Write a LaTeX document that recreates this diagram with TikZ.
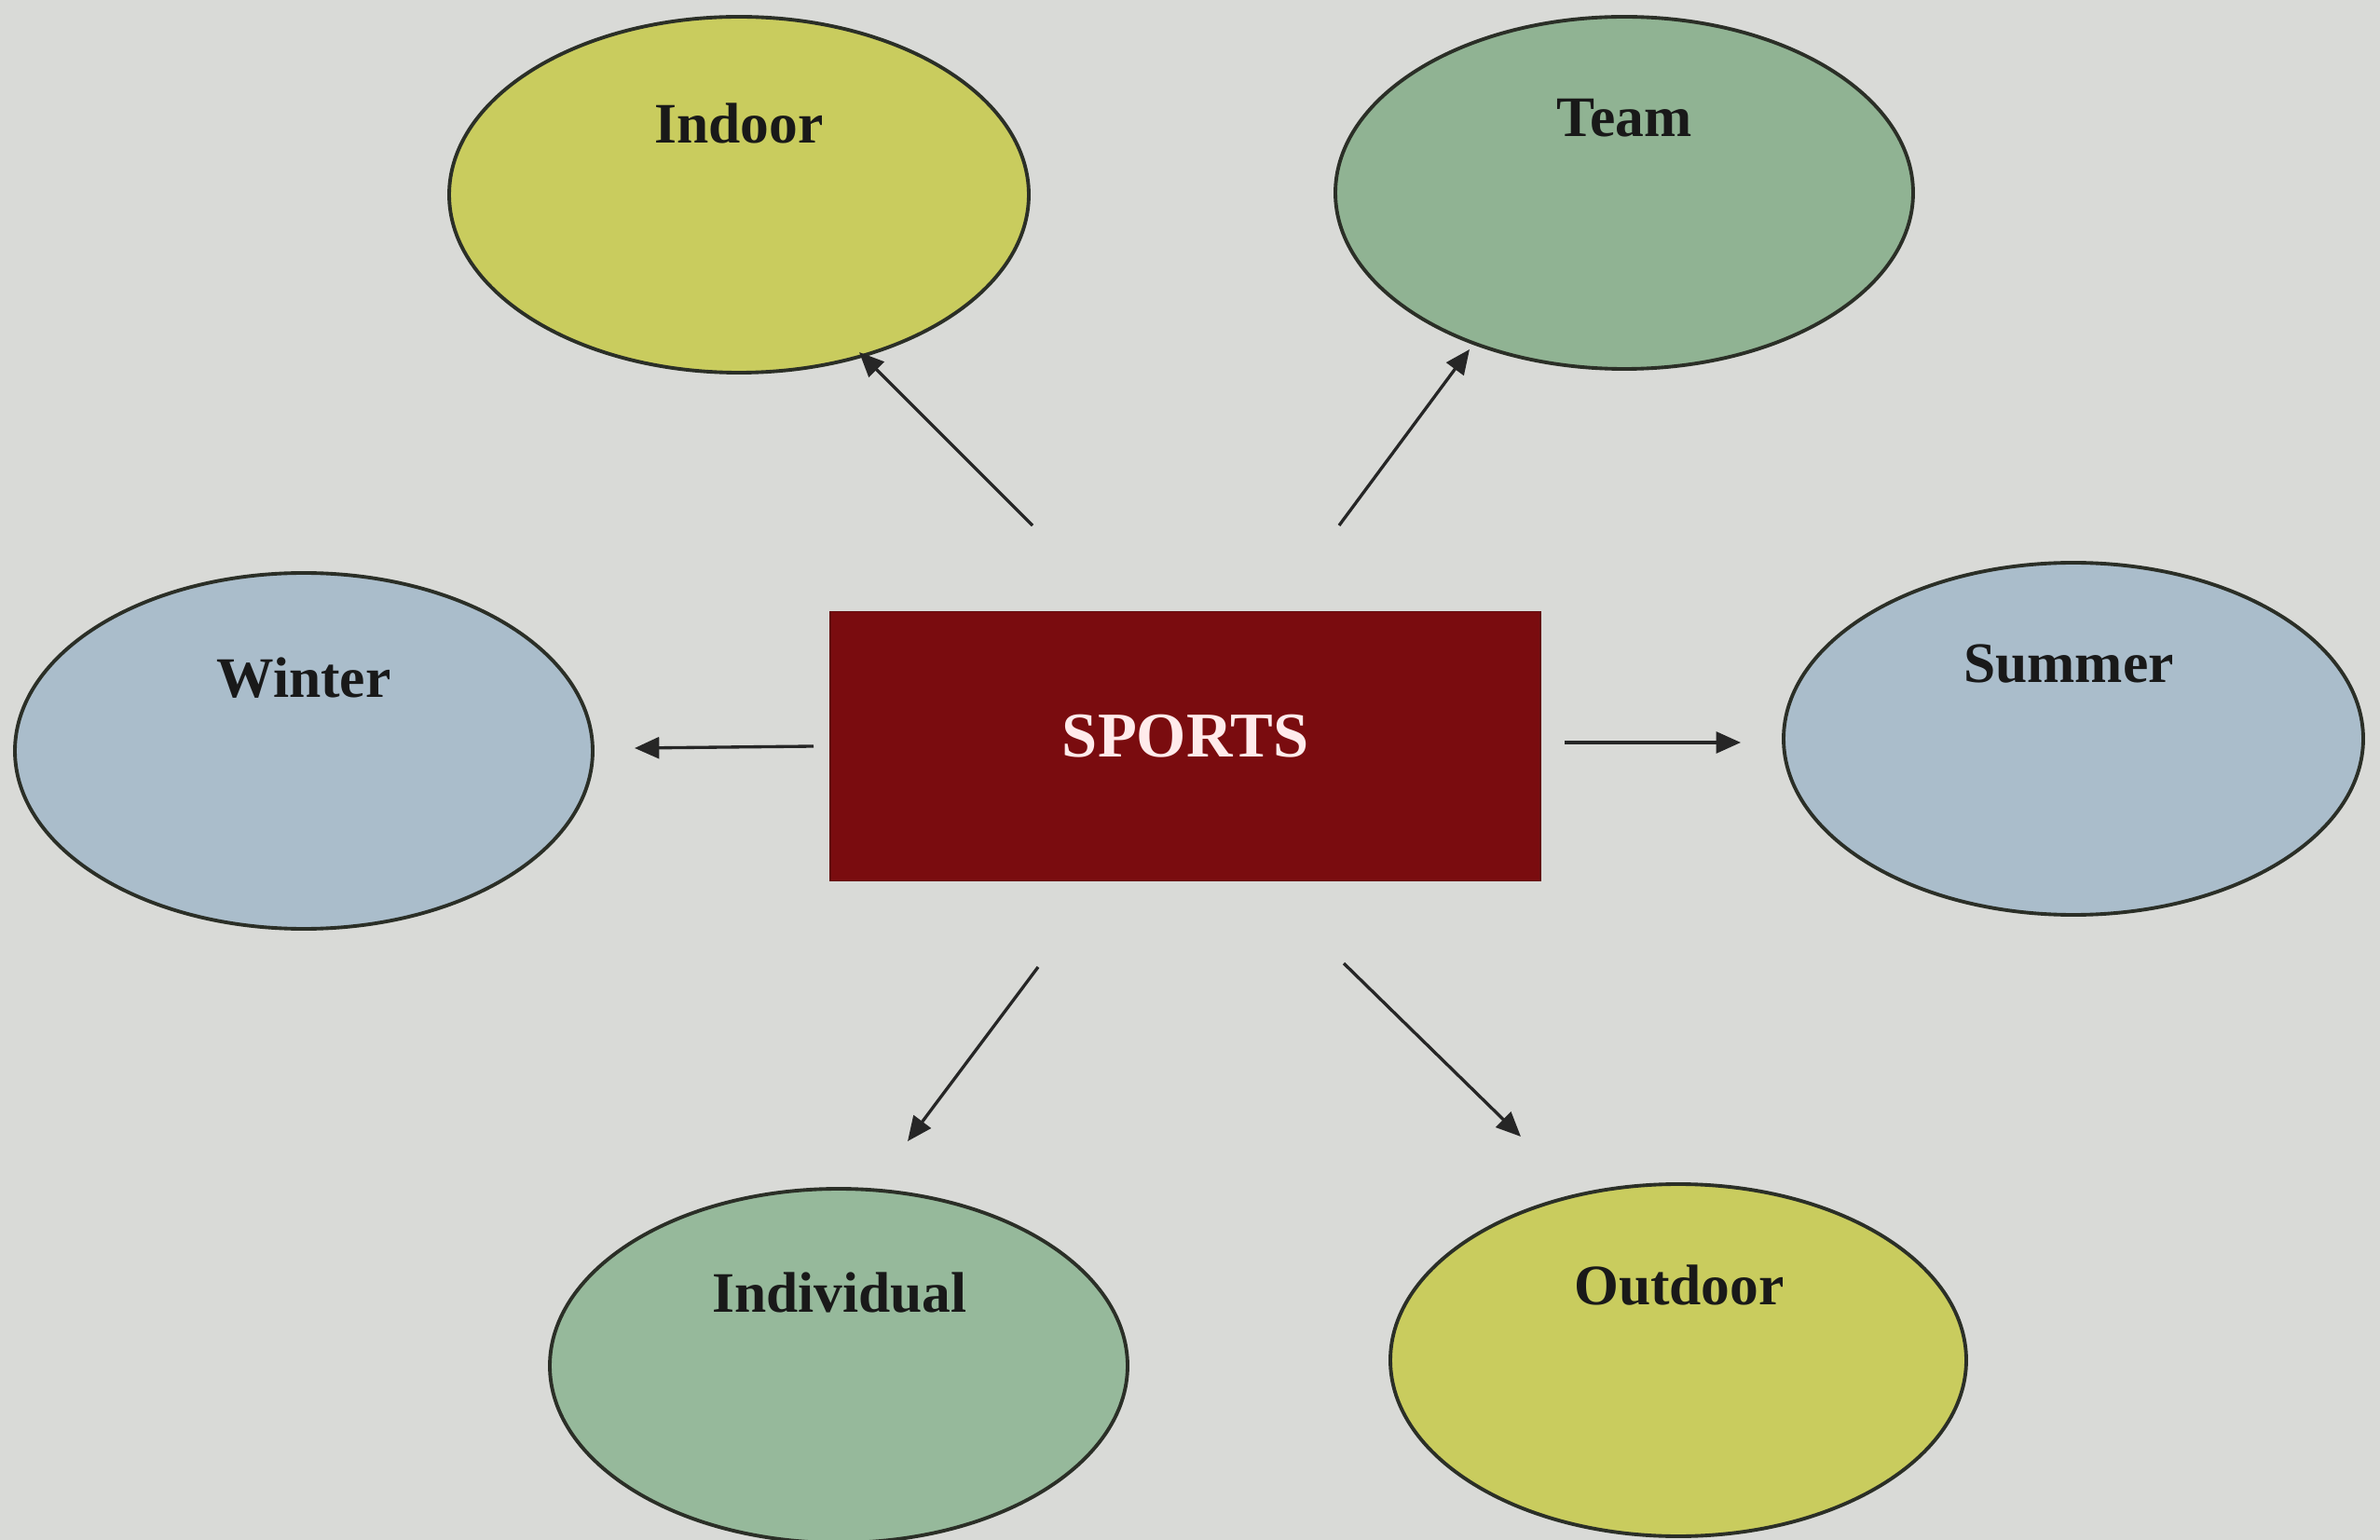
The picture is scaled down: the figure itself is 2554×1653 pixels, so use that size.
\documentclass[tikz,border=0pt]{standalone}
\usepackage{fontspec}
\setmainfont{Liberation Serif}
\usetikzlibrary{shapes.geometric,arrows.meta}
\definecolor{bg}{HTML}{D9DAD7}
\definecolor{yel}{HTML}{C9CC5E}
\definecolor{tgreen}{HTML}{90B393}
\definecolor{igreen}{HTML}{96B99B}
\definecolor{blu}{HTML}{AABDCB}
\definecolor{box}{HTML}{7A0C0F}
\definecolor{edge}{HTML}{2B2F27}
\tikzset{
  bubble/.style={ellipse, draw=edge, line width=1.1pt, inner sep=0pt},
  lbl/.style={font=\fontsize{17.5}{20}\selectfont\bfseries, text=black!90, inner sep=0pt},
  arr/.style={line width=0.95pt, draw=black!85, -{Triangle[length=7.5pt,width=6.5pt]}},
}
\begin{document}
\begin{tikzpicture}[x=0.1mm,y=-0.1mm]
\fill[bg] (0,0) rectangle (2554,1653);
\useasboundingbox (0,0) rectangle (2554,1653);
% ellipses
\node[bubble, fill=yel, minimum width=62.2mm, minimum height=38.2mm] (indoor) at (793,209) {};
\node[bubble, fill=tgreen, minimum width=62mm, minimum height=37.8mm] (team) at (1743,207) {};
\node[bubble, fill=blu, minimum width=62mm, minimum height=38.2mm] (winter) at (326,806) {};
\node[bubble, fill=blu, minimum width=62.2mm, minimum height=37.8mm] (summer) at (2225,793) {};
\node[bubble, fill=igreen, minimum width=62mm, minimum height=38mm] (individual) at (900,1466) {};
\node[bubble, fill=yel, minimum width=61.8mm, minimum height=37.8mm] (outdoor) at (1801,1460) {};
% labels
\node[lbl] (indoorlbl) at (793,132) {Indoor};
\node[lbl] (teamlbl) at (1743,127) {Team};
\node[lbl] (winterlbl) at (326,728) {Winter};
\node[lbl] (summerlbl) at (2220,713) {Summer};
\node[lbl] (individuallbl) at (901,1388) {Individual};
\node[lbl] (outdoorlbl) at (1802,1380) {Outdoor};
% center box
\node[draw=box!80!black, fill=box, minimum width=76.2mm, minimum height=28.9mm, inner sep=0pt] (sports) at (1272,801) {};
\node[font=\fontsize{19.5}{22}\selectfont\bfseries, text=white!92!red, inner sep=0pt] (sportslbl) at (1272,790) {SPORTS};
% arrow ends
\coordinate (a1s) at (1108,564); \coordinate (a1e) at (922,378);
\coordinate (a2s) at (1437,564); \coordinate (a2e) at (1577,375);
\coordinate (a3s) at (873,801);  \coordinate (a3e) at (681,803);
\coordinate (a4s) at (1679,797); \coordinate (a4e) at (1868,797);
\coordinate (a5s) at (1114,1038); \coordinate (a5e) at (974,1225);
\coordinate (a6s) at (1442,1034); \coordinate (a6e) at (1632,1220);
\draw[arr] (a1s) -- (a1e);
\draw[arr] (a2s) -- (a2e);
\draw[arr] (a3s) -- (a3e);
\draw[arr] (a4s) -- (a4e);
\draw[arr] (a5s) -- (a5e);
\draw[arr] (a6s) -- (a6e);
\end{tikzpicture}
\end{document}
